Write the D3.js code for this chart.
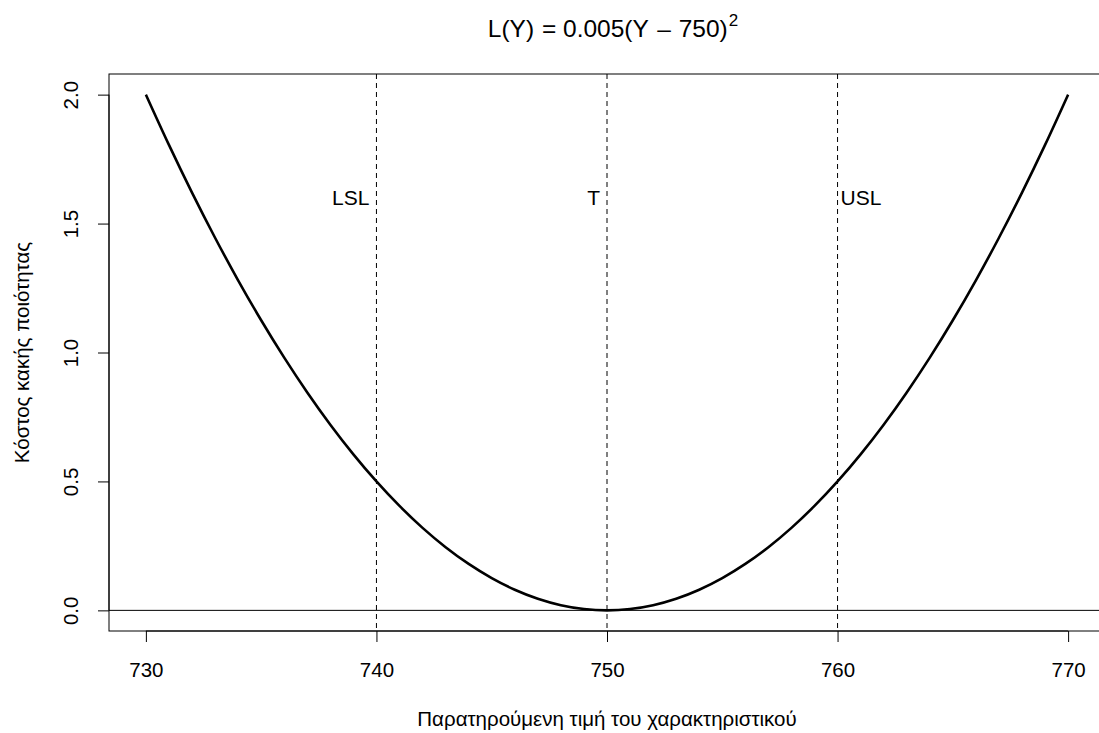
<!DOCTYPE html>
<html>
<head>
<meta charset="utf-8">
<script src="https://cdn.jsdelivr.net/npm/d3@7"></script>
<style>
  body { margin: 0; background: #fff; }
  svg { display: block; font-family: "Liberation Sans", Arial, Helvetica, sans-serif; }
</style>
</head>
<body>
<svg id="chart" width="1099" height="733"></svg>
<script>
// Loss values of the quality characteristic Y, L(Y) = 0.005 (Y - 750)^2
const lossY = [730, 731, 732, 733, 734, 735, 736, 737, 738, 739, 740,
               741, 742, 743, 744, 745, 746, 747, 748, 749, 750,
               751, 752, 753, 754, 755, 756, 757, 758, 759, 760,
               761, 762, 763, 764, 765, 766, 767, 768, 769, 770];
const lossL = [2.000, 1.805, 1.620, 1.445, 1.280, 1.125, 0.980, 0.845, 0.720, 0.605, 0.500,
               0.405, 0.320, 0.245, 0.180, 0.125, 0.080, 0.045, 0.020, 0.005, 0.000,
               0.005, 0.020, 0.045, 0.080, 0.125, 0.180, 0.245, 0.320, 0.405, 0.500,
               0.605, 0.720, 0.845, 0.980, 1.125, 1.280, 1.445, 1.620, 1.805, 2.000];

// specification limits and target
const limitNames = ['LSL', 'T', 'USL'];
const limitValues = [740, 750, 760];
const limitLabelLevel = 1.6;

const xTicks = [730, 740, 750, 760, 770];
const yTicks = [0.0, 0.5, 1.0, 1.5, 2.0];

const svg = d3.select('#chart');

// plot region (R style 4% padding on both axes)
const x = d3.scaleLinear().domain([728.4, 771.6]).range([109, 1105]);
const y = d3.scaleLinear().domain([-0.08, 2.08]).range([631, 74]);

const tickLen = 11;
const fontSize = 20.5;

// title, spaced like a plotmath expression, with superscript
const title = svg.append('text')
    .attr('x', 613)
    .attr('y', 37)
    .attr('text-anchor', 'middle')
    .style('font-size', '24.5px')
    .style('fill', '#000');
title.append('tspan').text('L(Y)');
title.append('tspan').attr('dx', 1).text(' = ');
title.append('tspan').text('0.005(Y');
title.append('tspan').attr('dx', 2).text(' \u2013 ');
title.append('tspan').attr('dx', 1).text('750)');
title.append('tspan').attr('dy', -11).attr('dx', 1).style('font-size', '17px').text('2');

// zero line
svg.append('line')
    .attr('x1', x.range()[0]).attr('x2', x.range()[1])
    .attr('y1', y(0)).attr('y2', y(0))
    .attr('stroke', '#000').attr('stroke-width', 1);

// vertical dashed lines at LSL, T, USL
svg.selectAll('line.limit')
    .data(limitValues)
    .enter()
    .append('line')
    .attr('class', 'limit')
    .attr('x1', d => x(d)).attr('x2', d => x(d))
    .attr('y1', y.range()[1]).attr('y2', y.range()[0])
    .attr('stroke', '#000')
    .attr('stroke-width', 1)
    .attr('stroke-dasharray', '5,4');

// limit labels: LSL and T to the left, USL to the right
svg.selectAll('text.limit-label')
    .data(limitNames)
    .enter()
    .append('text')
    .attr('class', 'limit-label')
    .attr('x', (d, i) => i < 2 ? x(limitValues[i]) - 7 : x(limitValues[i]) + 3)
    .attr('y', y(limitLabelLevel))
    .attr('dy', '0.36em')
    .attr('text-anchor', (d, i) => i < 2 ? 'end' : 'start')
    .style('font-size', `${fontSize + 0.5}px`)
    .style('fill', '#000')
    .text(d => d);

// loss curve
const line = d3.line()
    .x((d, i) => x(lossY[i]))
    .y(d => y(d))
    .curve(d3.curveMonotoneX);

svg.append('path')
    .datum(lossL)
    .attr('d', line)
    .attr('fill', 'none')
    .attr('stroke', '#000')
    .attr('stroke-width', 2.6);

// plot box
svg.append('rect')
    .attr('x', x.range()[0])
    .attr('y', y.range()[1])
    .attr('width', x.range()[1] - x.range()[0])
    .attr('height', y.range()[0] - y.range()[1])
    .attr('fill', 'none')
    .attr('stroke', '#000')
    .attr('stroke-width', 1);

// x axis
const xAxis = svg.append('g')
    .attr('transform', `translate(0,${y.range()[0]})`)
    .call(d3.axisBottom(x).tickValues(xTicks).tickSize(tickLen).tickPadding(20).tickFormat(d3.format('d')));
xAxis.select('.domain')
    .attr('d', `M${x(xTicks[0])},0H${x(xTicks[xTicks.length - 1])}`);

// y axis
const yAxis = svg.append('g')
    .attr('transform', `translate(${x.range()[0]},0)`)
    .call(d3.axisLeft(y).tickValues(yTicks).tickSize(tickLen).tickFormat(d3.format('.1f')));
yAxis.select('.domain')
    .attr('d', `M0,${y(yTicks[0])}V${y(yTicks[yTicks.length - 1])}`);

[xAxis, yAxis].forEach(g => {
    g.selectAll('path, line').attr('stroke', '#000');
    g.selectAll('text')
        .style('font-size', `${fontSize}px`)
        .style('font-family', '"Liberation Sans", Arial, sans-serif')
        .style('fill', '#000');
});
yAxis.selectAll('.tick text')
    .attr('x', 0).attr('y', 0)
    .attr('dy', '0.36em')
    .attr('transform', 'translate(-38,0) rotate(-90)')
    .attr('text-anchor', 'middle');

// axis titles
svg.append('text')
    .attr('x', 607)
    .attr('y', 726)
    .attr('text-anchor', 'middle')
    .style('font-size', `${fontSize}px`)
    .text('Παρατηρούμενη τιμή του χαρακτηριστικού');

svg.append('text')
    .attr('transform', `translate(29,${(y.range()[0] + y.range()[1]) / 2}) rotate(-90)`)
    .attr('text-anchor', 'middle')
    .style('font-size', `${fontSize}px`)
    .text('Κόστος κακής ποιότητας');
</script>
</body>
</html>
